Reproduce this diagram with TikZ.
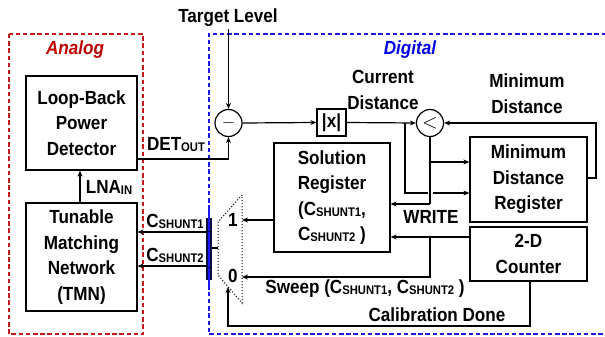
\documentclass[tikz,border=0pt]{standalone}
\usepackage{fontspec}
\setmainfont{Liberation Sans}[FakeStretch=0.9]
\usetikzlibrary{arrows.meta,calc}
\definecolor{anared}{RGB}{200,25,25}
\definecolor{analab}{RGB}{190,0,0}
\definecolor{digblue}{RGB}{25,25,240}
\definecolor{diglab}{RGB}{0,0,230}
\definecolor{busnavy}{RGB}{10,10,60}
\newcommand\lo[1]{\raisebox{-1pt}{\fontsize{12.5}{12.5}\selectfont #1}}
\begin{document}
\begin{tikzpicture}[x=1pt,y=-1pt,
  txt/.style={font=\fontsize{19}{25.5}\selectfont\bfseries, align=center, inner sep=0pt},
  blk/.style={draw, line width=1.2pt, txt},
  opcirc/.style={draw, circle, line width=1.2pt, minimum size=27pt, inner sep=0pt},
  wire/.style={line width=1.2pt},
  arr/.style={wire, -{Stealth[length=6pt,width=5pt]}},
  region/.style={line width=2pt, dash pattern=on 4.5pt off 2.7pt}]
\useasboundingbox (0,0) rectangle (605,337);

% y levels used by the connectors
\coordinate (y162) at (0,162);
\coordinate (y178) at (0,178);
\coordinate (y193) at (0,193);
\coordinate (y204) at (0,204);
\coordinate (y220) at (0,220);
\coordinate (y232) at (0,232);
\coordinate (y237) at (0,237);
\coordinate (y266) at (0,266);

% blocks
\node[blk, minimum width=111pt, minimum height=94pt] (lpd) at (81.5,123) {Loop-Back\\Power\\Detector};
\node[blk, minimum width=111pt, minimum height=108pt] (tmn) at (81.5,257) {Tunable\\Matching\\Network\\(TMN)};
\node[blk, minimum width=116pt, minimum height=109pt] (sol) at (332,197.5) {Solution\\Register\\(C\lo{SHUNT1},\\C\lo{SHUNT2} )};
\node[blk, minimum width=117pt, minimum height=85pt] (mdr) at (528.5,179.5) {Minimum\\Distance\\Register};
\node[blk, minimum width=117pt, minimum height=54pt] (cnt) at (528.5,254) {2-D\\Counter};
\node[blk, minimum width=29pt, minimum height=27pt] (abs) at (331.5,122.5) {|x|};
\node[opcirc] (sub) at (228.5,123) {\fontsize{18}{18}\selectfont$-$};
\node[opcirc] (cmp) at (430,123) {\fontsize{20}{20}\selectfont$<$};

% multiplexer
\coordinate (mtr) at (242,195);
\coordinate (mtl) at (218,222);
\coordinate (mbl) at (218,275);
\coordinate (mbr) at (242,303);
\draw[line width=1pt, dotted] (mtr) -- (mtl) -- (mbl) -- (mbr) -- cycle;
\node[txt] (one) at (233,220) {1};
\node[txt] (zero) at (233,276) {0};
\coordinate (min1) at (242,220);
\coordinate (min0) at (242,277);
\coordinate (msel) at (228,287);
\coordinate (mout) at (218,248);

% control bus bar
\fill[busnavy] (206,218) rectangle (212,280);
\coordinate (busout) at (212,248);
\coordinate (bus1) at (206,232);
\coordinate (bus2) at (206,266);

% region frames
\draw[region, anared] (9,34) rectangle (143,334);
\draw[region, digblue] (606,34) -- (208.5,34) -- (208.5,334) -- (606,334);
\node[txt, font=\fontsize{19}{19}\selectfont\bfseries\itshape, text=analab] (lana) at (75,50) {Analog};
\node[txt, font=\fontsize{19}{19}\selectfont\bfseries\itshape, text=diglab] (ldig) at (410,50) {Digital};

% signal path
\node[txt] (ltgt) at (228,18) {Target Level};
\coordinate (tgt) at (228.5,29);
\draw[arr] (tgt) -- (sub.north);
\draw[arr] ([yshift=-36pt]lpd.east) -| (sub.south);
\draw[arr] ([xshift=-1.5pt]tmn.north) -- ([xshift=-1.5pt]lpd.south);
\draw[arr] (sub.east) -- (abs.west);
\draw[arr] (abs.east) -- (cmp.west);

% current distance to the minimum register
\coordinate (b1) at (405,123);
\draw[arr] (b1) |- (mdr.west |- y193);
% comparator output: write enable
\coordinate (c204) at (430,204);
\draw[wire, preaction={draw=white, line width=5pt}] (cmp.south) -- (c204);
\draw[arr] (c204) -- (sol.east |- y204);
\coordinate (c162) at (430,162);
\draw[arr] (c162) -- (mdr.west |- y162);
% minimum distance feedback
\coordinate (fb) at (596,178);
\draw[arr] (mdr.east |- y178) -- (fb) |- (cmp.east);

% counter outputs
\draw[arr] (cnt.west |- y237) -- (sol.east |- y237);
\coordinate (s1) at (430,237);
\draw[arr] (s1) |- (min0);
\draw[arr] (sol.west |- y220) -- (min1);
\coordinate (cal) at (228,326);
\draw[arr] ([xshift=1.5pt]cnt.south) |- (cal) -- (msel);

% mux output and bus
\draw[wire] (mout) -- (busout);
\draw[arr] (bus1) -- (tmn.east |- y232);
\draw[arr] (bus2) -- (tmn.east |- y266);
\draw[digblue, line width=2pt, dash pattern=on 4.5pt off 2.7pt] (208.5,210) -- (208.5,290);

% labels
\node[txt] (lcur) at (383,90) {Current\\Distance};
\node[txt] (lmin) at (527,93.5) {Minimum\\Distance};
\node[txt] (ldet) at (176,145) {DET\lo{OUT}};
\node[txt] (llna) at (109,187) {LNA\lo{IN}};
\node[txt] (lc1) at (175,221) {C\lo{SHUNT1}};
\node[txt] (lc2) at (175,255) {C\lo{SHUNT2}};
\node[txt] (lwr) at (431,217) {WRITE};
\node[txt] (lsw) at (365,289) {Sweep (C\lo{SHUNT1}, C\lo{SHUNT2} )};
\node[txt] (lcal) at (437,315) {Calibration Done};
\end{tikzpicture}
\end{document}
